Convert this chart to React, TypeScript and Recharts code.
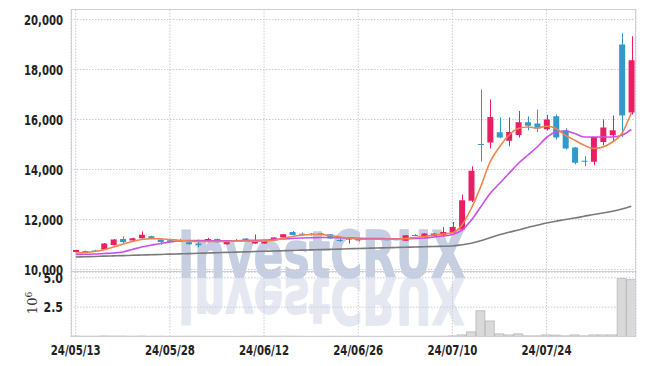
import { Bar, CartesianGrid, ComposedChart, Line, XAxis, YAxis } from 'recharts';

// trading days, 24/05/13 .. 24/08/06
const dates = [
  '24/05/13', '24/05/14', '24/05/16', '24/05/17', '24/05/20', '24/05/21', '24/05/22', '24/05/23', '24/05/24', '24/05/27',
  '24/05/28', '24/05/29', '24/05/30', '24/05/31', '24/06/03', '24/06/04', '24/06/05', '24/06/07', '24/06/10', '24/06/11',
  '24/06/12', '24/06/13', '24/06/14', '24/06/17', '24/06/18', '24/06/19', '24/06/20', '24/06/21', '24/06/24', '24/06/25',
  '24/06/26', '24/06/27', '24/06/28', '24/07/01', '24/07/02', '24/07/03', '24/07/04', '24/07/05', '24/07/08', '24/07/09',
  '24/07/10', '24/07/11', '24/07/12', '24/07/15', '24/07/16', '24/07/17', '24/07/18', '24/07/19', '24/07/22', '24/07/23',
  '24/07/24', '24/07/25', '24/07/26', '24/07/29', '24/07/30', '24/07/31', '24/08/01', '24/08/02', '24/08/05', '24/08/06',
];

const opens = [
  10700, 10740, 10760, 10800, 10980, 11220, 11160, 11250, 11330, 11200,
  11170, 11160, 11090, 11040, 11100, 11220, 11010, 11170, 11240, 11040,
  11040, 11160, 11280, 11500, 11430, 11380, 11380, 11410, 11180, 11200,
  11170, 11220, 11220, 11210, 11210, 11150, 11380, 11300, 11330, 11380,
  11470, 11600, 12750, 15020, 15080, 15490, 15150, 15380, 15890, 15840,
  15610, 16130, 15570, 14880, 14350, 14310, 15100, 15370, 19000, 16280,
];
const highs = [
  10790, 10760, 10790, 11060, 11220, 11330, 11270, 11520, 11350, 11220,
  11190, 11230, 11110, 11200, 11270, 11240, 11130, 11220, 11250, 11400,
  11140, 11290, 11420, 11540, 11480, 11450, 11450, 11420, 11240, 11290,
  11250, 11240, 11240, 11230, 11230, 11380, 11420, 11450, 11450, 11700,
  11900, 13000, 14130, 17200, 16800, 16080, 16080, 16340, 16130, 16400,
  16180, 16200, 15650, 14900, 14530, 15300, 16000, 16160, 19450, 19330,
];
const lows = [
  10680, 10690, 10720, 10790, 10960, 11040, 11140, 11230, 11220, 10990,
  11090, 11100, 11000, 10890, 11090, 11080, 11000, 11110, 11150, 11030,
  11030, 11150, 11270, 11360, 11360, 11360, 11370, 11230, 11100, 11040,
  11150, 11180, 11180, 11170, 11170, 11140, 11330, 11290, 11320, 11330,
  11460, 11560, 12700, 14330, 14840, 15250, 14930, 15280, 15570, 15500,
  15560, 15200, 14800, 14210, 14130, 14170, 14970, 15140, 15300, 16200,
];
const closes = [
  10780, 10700, 10740, 11040, 11200, 11100, 11250, 11390, 11230, 11100,
  11100, 11150, 11010, 10970, 11220, 11090, 11120, 11160, 11160, 11160,
  11130, 11280, 11410, 11380, 11410, 11430, 11440, 11240, 11160, 11280,
  11240, 11200, 11200, 11190, 11190, 11370, 11360, 11440, 11440, 11500,
  11700, 12770, 13950, 15000, 16100, 15280, 15500, 15890, 15750, 15640,
  16000, 15280, 14840, 14270, 14330, 15300, 15680, 15570, 16160, 18370,
];

const ma5 = [
  10660, 10680, 10720, 10790, 10900, 11010, 11120, 11200, 11230, 11230,
  11200, 11170, 11140, 11120, 11120, 11120, 11120, 11140, 11140, 11130,
  11140, 11170, 11240, 11320, 11370, 11400, 11400, 11360, 11310, 11260,
  11220, 11210, 11210, 11210, 11210, 11240, 11280, 11320, 11380, 11420,
  11470, 11770, 12440, 13300, 14300, 14900, 15370, 15640, 15700, 15660,
  15730, 15640, 15370, 15170, 14970, 14840, 14900, 15100, 15440, 16260,
];
const ma20 = [
  10600, 10610, 10620, 10640, 10660, 10700, 10800, 10900, 10970, 11040,
  11100, 11150, 11160, 11160, 11150, 11150, 11150, 11150, 11160, 11170,
  11180, 11200, 11220, 11240, 11260, 11270, 11280, 11280, 11270, 11260,
  11250, 11240, 11240, 11230, 11230, 11230, 11240, 11260, 11300, 11340,
  11400, 11570, 11970, 12500, 13040, 13440, 13840, 14240, 14570, 14900,
  15280, 15500, 15540, 15440, 15300, 15300, 15300, 15300, 15370, 15600,
];
const ma60 = [
  10500, 10510, 10520, 10535, 10545, 10555, 10570, 10580, 10590, 10600,
  10615, 10625, 10635, 10650, 10660, 10670, 10685, 10695, 10705, 10720,
  10730, 10740, 10750, 10760, 10775, 10785, 10795, 10805, 10815, 10830,
  10840, 10850, 10860, 10870, 10880, 10890, 10900, 10910, 10920, 10930,
  10940, 10990, 11050, 11150, 11270, 11390, 11490, 11580, 11680, 11770,
  11860, 11930, 12000, 12060, 12130, 12200, 12260, 12330, 12420, 12530,
];

const volumes = [
  40000, 30000, 25000, 50000, 45000, 40000, 30000, 45000, 25000, 30000,
  20000, 20000, 25000, 30000, 20000, 25000, 20000, 15000, 20000, 30000,
  20000, 25000, 35000, 30000, 20000, 15000, 15000, 25000, 20000, 20000,
  15000, 15000, 10000, 15000, 15000, 25000, 20000, 25000, 20000, 30000,
  50000, 140000, 400000, 2200000, 1330000, 230000, 140000, 230000, 60000, 60000,
  140000, 120000, 60000, 140000, 60000, 140000, 140000, 140000, 4950000, 4850000,
];

const priceTicks = [10000, 12000, 14000, 16000, 18000, 20000];
const volumeTicks = [2500000, 5000000];
const dateTicks = ['24/05/13', '24/05/28', '24/06/12', '24/06/26', '24/07/10', '24/07/24'];

const UP = '#e91e63';
const DOWN = '#3399cc';
const GRID = '#c9cbdc';
const FONT = '"DejaVu Sans Condensed", "DejaVu Sans", sans-serif';

const rows = dates.map((date, i) => ({
  date,
  open: opens[i],
  high: highs[i],
  low: lows[i],
  close: closes[i],
  range: [lows[i], highs[i]],
  ma5: ma5[i],
  ma20: ma20[i],
  ma60: ma60[i],
  volume: volumes[i],
}));

// narrow bold labels, squeezed to the reference widths
function SideTick(props: any) {
  const { x, y, payload, fmt } = props;
  const label = fmt(payload.value);
  const w = label.length * 6.5;
  return (
    <text x={x - w} y={y + 5.2} textLength={w} lengthAdjust="spacingAndGlyphs" fontSize={14.5}
      fontWeight={700} fontFamily={FONT} fill="#222">{label}</text>
  );
}

function DateTick(props: any) {
  const { x, y, payload } = props;
  const w = 50;
  return (
    <text x={x - w / 2} y={y + 10.5} textLength={w} lengthAdjust="spacingAndGlyphs" fontSize={14.5}
      fontWeight={700} fontFamily={FONT} fill="#222">{payload.value}</text>
  );
}

const priceFmt = (v: number) => v.toLocaleString('en-US');
const volumeFmt = (v: number) => (v / 1000000).toFixed(1);

function Candle(props: any) {
  const { x, y, width, height, payload } = props;
  const top = Math.min(y, y + height);
  const bottom = Math.max(y, y + height);
  const span = payload.high - payload.low || 1;
  const toY = (p: number) => bottom - ((p - payload.low) / span) * (bottom - top);
  const color = payload.close >= payload.open ? UP : DOWN;
  const bodyTop = toY(Math.max(payload.open, payload.close));
  const bodyBottom = toY(Math.min(payload.open, payload.close));
  const cx = Math.round(x + width / 2) + 0.5;
  return (
    <g>
      <line x1={cx} x2={cx} y1={top} y2={bottom} stroke={color} strokeWidth={1} />
      <rect x={x} y={bodyTop} width={width} height={Math.max(1, bodyBottom - bodyTop)} fill={color} />
    </g>
  );
}

function Watermark() {
  return (
    <svg width={645} height={366} style={{ position: 'absolute', left: 0, top: 0 }}>
      <text x={178} y={277} fontSize={64} fontWeight={700} fontFamily="DejaVu Sans" fill="#c6cee2"
        stroke="#c6cee2" strokeWidth={1.5} textLength={287} lengthAdjust="spacingAndGlyphs">InvestCRUX</text>
      <g transform="translate(0,555) scale(1,-1)" opacity={0.45}>
        <text x={178} y={277} fontSize={64} fontWeight={700} fontFamily="DejaVu Sans" fill="#c6cee2"
          stroke="#c6cee2" strokeWidth={1.5} textLength={287} lengthAdjust="spacingAndGlyphs">InvestCRUX</text>
      </g>
    </svg>
  );
}

export default function App() {
  return (
    <div style={{ position: 'absolute', left: 0, top: 0, width: 645, height: 366 }}>
      <Watermark />
      <div style={{ position: 'absolute', left: 0, top: 0 }}>
        <ComposedChart width={645} height={282} data={rows} margin={{ top: 9.5, right: 9, left: 0, bottom: 10 }}>
          <CartesianGrid stroke={GRID} strokeDasharray="1.5 1.5" />
          <XAxis dataKey="date" hide ticks={dateTicks} interval={0} />
          <YAxis width={71} domain={[9900, 20400]} ticks={priceTicks} interval={0} axisLine={false}
            tickLine={false} tick={<SideTick fmt={priceFmt} />} />
          <Bar dataKey="range" barSize={6} shape={Candle} isAnimationActive={false} />
          <Line dataKey="ma60" type="monotone" dot={false} stroke="#7a7a7a" strokeWidth={1.6} isAnimationActive={false} />
          <Line dataKey="ma20" type="monotone" dot={false} stroke="#c94fe6" strokeWidth={1.6} isAnimationActive={false} />
          <Line dataKey="ma5" type="monotone" dot={false} stroke="#f0844c" strokeWidth={1.6} isAnimationActive={false} />
        </ComposedChart>
      </div>
      <div style={{ position: 'absolute', left: 0, top: 262 }}>
        <ComposedChart width={645} height={104} data={rows} barCategoryGap={0}
          margin={{ top: 10, right: 9, left: 0, bottom: 0 }}>
          <CartesianGrid stroke={GRID} strokeDasharray="1.5 1.5" />
          <XAxis dataKey="date" ticks={dateTicks} interval={0} height={29.5} axisLine={false} tickLine={false}
            tick={<DateTick />} />
          <YAxis width={71} domain={[0, 5500000]} ticks={volumeTicks} interval={0} axisLine={false}
            tickLine={false} tick={<SideTick fmt={volumeFmt} />} />
          <Bar dataKey="volume" fill="#d9d9d9" stroke="#aaaaaa" strokeWidth={0.6} isAnimationActive={false} />
        </ComposedChart>
      </div>
      <svg width={645} height={366} style={{ position: 'absolute', left: 0, top: 0, pointerEvents: 'none' }}>
        <rect x={71.5} y={9.5} width={564} height={262} fill="none" stroke="#cfcfd6" />
        <rect x={71.5} y={271.5} width={564} height={65} fill="none" stroke="#cfcfd6" />
        <text transform="translate(37,303) rotate(-90)" textAnchor="middle" fontFamily="DejaVu Serif"
          fontSize={13} fill="#333">10<tspan dy={-5} fontSize={9}>6</tspan></text>
      </svg>
    </div>
  );
}
